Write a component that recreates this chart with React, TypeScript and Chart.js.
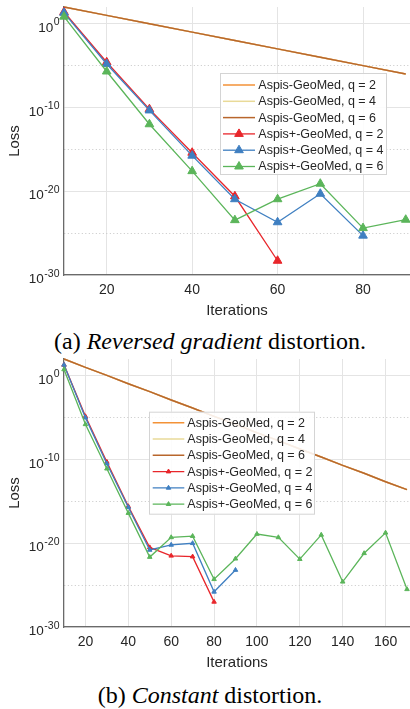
import React, { useEffect, useRef } from "react";
import { Chart, registerables } from "chart.js";

Chart.register(...registerables);

const FONT = "'Liberation Sans', Arial, Helvetica, sans-serif";
const TEXT = "#262626";

// ---------- data (log10 of loss) ----------
const itersA = [10, 20, 30, 40, 50, 60, 70, 80, 90];
const aspisLogLossA = [2.0, 1.0, 0.0, -1.0, -2.0, -3.0, -4.0, -5.0, -6.0];
const aspisPlusQ2LogLossA = [1.4, -4.6, -10.2, -15.4, -20.6, -28.3];
const aspisPlusQ4LogLossA = [1.3, -4.8, -10.35, -15.75, -20.95, -23.7, -20.3, -25.3];
const aspisPlusQ6LogLossA = [0.85, -5.7, -12.0, -17.6, -23.45, -20.95, -19.1, -24.4, -23.4];

const itersB = [10, 20, 30, 40, 50, 60, 70, 80, 90, 100, 110, 120, 130, 140, 150, 160, 170];
const aspisLogLossB = [2.0, 1.0, 0.05, -0.95, -1.9, -2.9, -3.85, -4.85, -5.8, -6.8, -7.75, -8.75, -9.7, -10.7, -11.65, -12.65, -13.6];
const aspisPlusQ2LogLossB = [1.3, -4.85, -10.3, -15.6, -20.5, -21.5, -21.6, -27.0];
const aspisPlusQ4LogLossB = [1.3, -5.0, -10.5, -15.7, -20.8, -20.2, -20.0, -25.8, -23.2];
const aspisPlusQ6LogLossB = [0.75, -5.8, -11.1, -16.4, -21.65, -19.3, -19.15, -24.3, -21.85, -18.9, -19.3, -21.9, -19.0, -24.6, -21.2, -18.75, -25.5];

const seriesLabels = [
  "Aspis-GeoMed, q = 2",
  "Aspis-GeoMed, q = 4",
  "Aspis-GeoMed, q = 6",
  "Aspis+-GeoMed, q = 2",
  "Aspis+-GeoMed, q = 4",
  "Aspis+-GeoMed, q = 6",
];
const seriesColors = ["#F39237", "#E9DA98", "#B8662C", "#E8262B", "#3F7FC1", "#5BB55A"];

const xTicksA = [20, 40, 60, 80];
const xTicksB = [20, 40, 60, 80, 100, 120, 140, 160];
const yGridExps = [-30, -25, -20, -15, -10, -5, 0];
const yLabelExps = [0, -10, -20, -30];

type Box = { x: number; y: number; w: number; h: number; rowTop: number; step: number; lineStart: number; lineLen: number; textStart: number };

function toPoints(iters: number[], logs: number[]) {
  return logs.map((v, i) => ({ x: iters[i], y: Math.pow(10, v) }));
}

function buildDatasets(iters: number[], aspis: number[], q2: number[], q4: number[], q6: number[], markerR: number) {
  const logs = [aspis, aspis, aspis, q2, q4, q6];
  return logs.map((l, i) => {
    const marker = i >= 3;
    return {
      label: seriesLabels[i],
      data: toPoints(iters, l),
      borderColor: seriesColors[i],
      backgroundColor: seriesColors[i],
      borderWidth: marker ? 1.3 : 1.5,
      pointStyle: "triangle",
      pointRadius: marker ? markerR : 0,
      pointBorderWidth: 1,
      pointBackgroundColor: seriesColors[i],
      pointBorderColor: seriesColors[i],
      tension: 0,
      clip: false as any,
      order: 5 - i,
    };
  });
}

function ChartPanel(props: {
  top: number;
  datasets: any[];
  xMax: number;
  xTicks: number[];
  legend: Box;
  markerR: number;
}) {
  const ref = useRef<HTMLCanvasElement | null>(null);
  useEffect(() => {
    if (!ref.current) return;
    const { legend, markerR } = props;
    const overlay = {
      id: "overlay",
      afterDatasetsDraw(chart: any) {
        const ctx = chart.ctx as CanvasRenderingContext2D;
        ctx.save();
        // legend
        ctx.fillStyle = "rgba(255,255,255,0.88)";
        ctx.fillRect(legend.x, legend.y, legend.w, legend.h);
        ctx.strokeStyle = "#d4d4d4";
        ctx.lineWidth = 1;
        ctx.strokeRect(legend.x + 0.5, legend.y + 0.5, legend.w - 1, legend.h - 1);
        chart.data.datasets.forEach((ds: any, i: number) => {
          const cy = legend.y + legend.rowTop + i * legend.step;
          const x0 = legend.x + legend.lineStart;
          const x1 = x0 + legend.lineLen;
          ctx.strokeStyle = ds.borderColor;
          ctx.lineWidth = ds.borderWidth;
          ctx.beginPath();
          ctx.moveTo(x0, cy);
          ctx.lineTo(x1, cy);
          ctx.stroke();
          if (ds.pointRadius > 0) {
            const cx = (x0 + x1) / 2;
            const r = markerR;
            ctx.fillStyle = ds.borderColor;
            ctx.beginPath();
            for (let k = 0; k < 3; k++) {
              const a = (k * 2 * Math.PI) / 3;
              const px = cx + Math.sin(a) * r;
              const py = cy - Math.cos(a) * r;
              if (k === 0) ctx.moveTo(px, py);
              else ctx.lineTo(px, py);
            }
            ctx.closePath();
            ctx.fill();
            ctx.lineWidth = 1;
            ctx.stroke();
          }
          ctx.fillStyle = TEXT;
          ctx.font = `12.5px ${FONT}`;
          ctx.textAlign = "left";
          ctx.textBaseline = "middle";
          ctx.fillText(ds.label, legend.x + legend.textStart, cy + 0.5);
        });
        ctx.restore();
      },
      afterDraw(chart: any) {
        const ctx = chart.ctx as CanvasRenderingContext2D;
        const ys = chart.scales.y;
        const right = chart.chartArea.left - 4.5;
        ctx.save();
        ctx.fillStyle = TEXT;
        ctx.textBaseline = "alphabetic";
        for (const e of yLabelExps) {
          const py = ys.getPixelForValue(Math.pow(10, e));
          const es = String(e);
          ctx.font = `10.5px ${FONT}`;
          const ew = ctx.measureText(es).width;
          ctx.textAlign = "left";
          ctx.fillText(es, right - ew, py + 1.5);
          ctx.font = `13.5px ${FONT}`;
          ctx.textAlign = "right";
          ctx.fillText("10", right - ew - 0.5, py + 8);
        }
        ctx.restore();
      },
    };

    const chart = new Chart(ref.current, {
      type: "line",
      data: { datasets: props.datasets },
      options: {
        animation: false,
        responsive: false,
        devicePixelRatio: 1,
        layout: { padding: { top: 7, right: 0, left: 0, bottom: 0 }, autoPadding: false },
        plugins: { legend: { display: false }, tooltip: { enabled: false } },
        scales: {
          x: {
            type: "linear",
            min: 10,
            max: props.xMax,
            afterBuildTicks: (s: any) => {
              s.ticks = props.xTicks.map((v) => ({ value: v }));
            },
            afterFit: (s: any) => {
              s.height = 45;
            },
            grid: { color: "#e4e4e4", lineWidth: 1, drawTicks: false },
            border: { display: true, color: "#6a6a6a", width: 1.3 },
            ticks: { font: { family: FONT, size: 14 }, color: TEXT, padding: 7, maxRotation: 0 },
            title: {
              display: true,
              text: "Iterations",
              font: { family: FONT, size: 15 },
              color: TEXT,
              padding: { top: 0, bottom: 0 },
            },
          },
          y: {
            type: "logarithmic",
            min: 1e-30,
            max: 1e2,
            afterBuildTicks: (s: any) => {
              s.ticks = yGridExps.map((e) => ({ value: Math.pow(10, e) }));
            },
            afterFit: (s: any) => {
              s.width = 64;
            },
            grid: {
              drawTicks: false,
              lineWidth: 1,
              color: (c: any) => {
                if (!c.tick) return "#e4e4e4";
                const e = Math.round(Math.log10(c.tick.value));
                return Math.abs(e) % 10 === 0 ? "#e4e4e4" : "#c6c6c6";
              },
            },
            border: {
              display: true,
              color: "#6a6a6a",
              width: 1.3,
              dash: (c: any) => {
                if (!c || !c.tick) return [];
                const e = Math.round(Math.log10(c.tick.value));
                return Math.abs(e) % 10 === 0 ? [] : [1, 2.5];
              },
            },
            ticks: { display: false },
            title: {
              display: true,
              text: "Loss",
              font: { family: FONT, size: 15 },
              color: TEXT,
              padding: { top: 6, bottom: 0 },
            },
          },
        },
      } as any,
      plugins: [overlay],
    });
    return () => chart.destroy();
  }, []);
  return (
    <canvas
      ref={ref}
      width={410}
      height={320}
      style={{ position: "absolute", left: 0, top: props.top, width: 410, height: 320 }}
    />
  );
}

const captionStyle: React.CSSProperties = {
  position: "absolute",
  left: 10,
  width: 400,
  textAlign: "center",
  fontFamily: "'Liberation Serif', 'Times New Roman', serif",
  fontSize: 24,
  lineHeight: "24px",
  color: "#000",
  whiteSpace: "nowrap",
};

export default function App() {
  const dsA = buildDatasets(itersA, aspisLogLossA, aspisPlusQ2LogLossA, aspisPlusQ4LogLossA, aspisPlusQ6LogLossA, 5);
  const dsB = buildDatasets(itersB, aspisLogLossB, aspisPlusQ2LogLossB, aspisPlusQ4LogLossB, aspisPlusQ6LogLossB, 2.6);
  return (
    <div style={{ position: "absolute", left: 0, top: 0, width: 410, height: 709, background: "#fff" }}>
      <ChartPanel
        top={0}
        datasets={dsA}
        xMax={91}
        xTicks={xTicksA}
        markerR={5}
        legend={{ x: 220, y: 73, w: 167, h: 102, rowTop: 12, step: 16.3, lineStart: 3, lineLen: 32, textStart: 38.3 }}
      />
      <div style={{ ...captionStyle, top: 329 }}>
        (a) <i>Reversed gradient</i> distortion.
      </div>
      <ChartPanel
        top={352}
        datasets={dsB}
        xMax={171.4}
        xTicks={xTicksB}
        markerR={2.6}
        legend={{ x: 149, y: 59.7, w: 166, h: 103, rowTop: 11, step: 16.3, lineStart: 3.7, lineLen: 31.6, textStart: 38.3 }}
      />
      <div style={{ ...captionStyle, top: 683 }}>
        (b) <i>Constant</i> distortion.
      </div>
    </div>
  );
}
